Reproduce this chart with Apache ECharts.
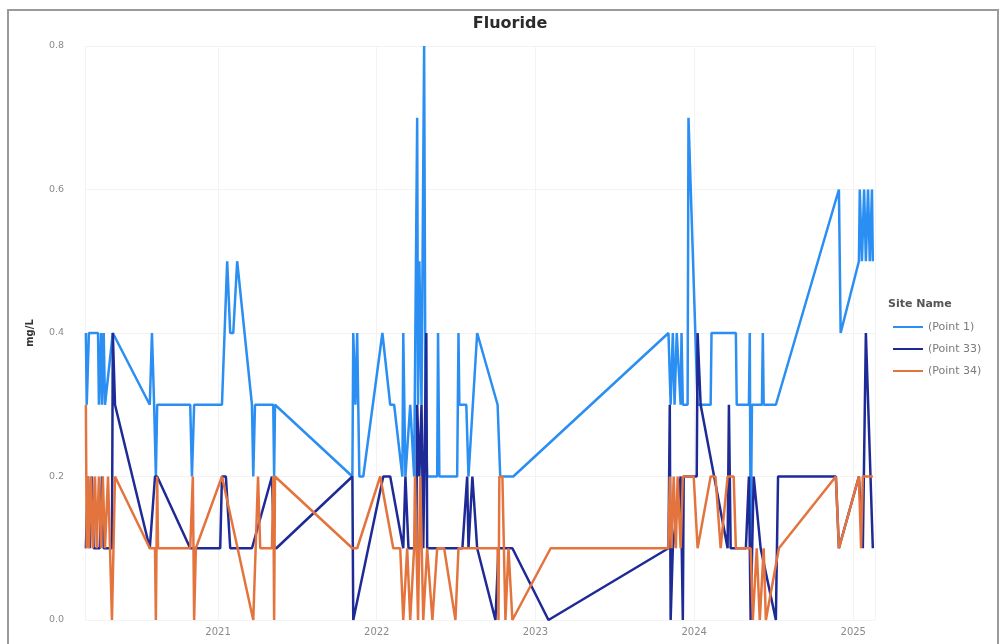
<!DOCTYPE html>
<html>
<head>
<meta charset="utf-8">
<title>Fluoride</title>
<script src="https://cdn.jsdelivr.net/npm/echarts@6/dist/echarts.min.js"></script>
<style>
  html, body { margin: 0; padding: 0; background: #ffffff; }
  #chart { width: 1000px; height: 644px; }
</style>
</head>
<body>
<div id="chart"></div>
<script>
// Fluoride samples (mg/L) per site
const siteNames = ['(Point 1)', '(Point 33)', '(Point 34)'];

const point1 = [
  ['2020-03-03', 0.4], ['2020-03-05', 0.3], ['2020-03-10', 0.4], ['2020-03-31', 0.4],
  ['2020-04-02', 0.3], ['2020-04-07', 0.4], ['2020-04-09', 0.3], ['2020-04-13', 0.4],
  ['2020-04-16', 0.3], ['2020-05-04', 0.4], ['2020-07-28', 0.3], ['2020-08-02', 0.4],
  ['2020-08-07', 0.3], ['2020-08-11', 0.2], ['2020-08-14', 0.3], ['2020-10-29', 0.3],
  ['2020-11-02', 0.2], ['2020-11-07', 0.3], ['2021-01-10', 0.3], ['2021-01-22', 0.5],
  ['2021-01-29', 0.4], ['2021-02-05', 0.4], ['2021-02-14', 0.5], ['2021-03-20', 0.3],
  ['2021-03-23', 0.2], ['2021-03-27', 0.3], ['2021-05-08', 0.3], ['2021-05-10', 0.2],
  ['2021-05-12', 0.3], ['2021-11-06', 0.2], ['2021-11-08', 0.4], ['2021-11-13', 0.3],
  ['2021-11-17', 0.4], ['2021-11-22', 0.2], ['2021-12-01', 0.2], ['2022-01-14', 0.4],
  ['2022-02-01', 0.3], ['2022-02-10', 0.3], ['2022-03-01', 0.2], ['2022-03-03', 0.4],
  ['2022-03-08', 0.2], ['2022-03-19', 0.3], ['2022-03-28', 0.2], ['2022-04-04', 0.7],
  ['2022-04-06', 0.3], ['2022-04-09', 0.5], ['2022-04-14', 0.3], ['2022-04-20', 0.8],
  ['2022-04-23', 0.3], ['2022-04-27', 0.2], ['2022-05-20', 0.2], ['2022-05-22', 0.4],
  ['2022-05-25', 0.2], ['2022-07-05', 0.2], ['2022-07-08', 0.4], ['2022-07-10', 0.3],
  ['2022-07-26', 0.3], ['2022-07-31', 0.2], ['2022-08-20', 0.4], ['2022-10-06', 0.3],
  ['2022-10-12', 0.2], ['2022-11-11', 0.2], ['2023-11-03', 0.4], ['2023-11-08', 0.3],
  ['2023-11-13', 0.4], ['2023-11-17', 0.3], ['2023-11-22', 0.4], ['2023-12-01', 0.3],
  ['2023-12-03', 0.4], ['2023-12-06', 0.3], ['2023-12-17', 0.3], ['2023-12-19', 0.7],
  ['2024-01-09', 0.3], ['2024-02-08', 0.3], ['2024-02-10', 0.4], ['2024-04-06', 0.4],
  ['2024-04-08', 0.3], ['2024-05-06', 0.3], ['2024-05-08', 0.4], ['2024-05-10', 0.1],
  ['2024-05-13', 0.3], ['2024-06-05', 0.3], ['2024-06-07', 0.4], ['2024-06-09', 0.3],
  ['2024-07-07', 0.3], ['2024-11-29', 0.6], ['2024-12-03', 0.4], ['2025-01-14', 0.5],
  ['2025-01-16', 0.6], ['2025-01-21', 0.5], ['2025-01-26', 0.6], ['2025-01-30', 0.5],
  ['2025-02-04', 0.6], ['2025-02-08', 0.5], ['2025-02-13', 0.6], ['2025-02-15', 0.5]
];

const point33 = [
  ['2020-03-03', 0.1], ['2020-03-08', 0.2], ['2020-03-12', 0.1], ['2020-03-17', 0.2],
  ['2020-03-21', 0.1], ['2020-04-04', 0.1], ['2020-04-09', 0.2], ['2020-04-13', 0.1],
  ['2020-05-02', 0.1], ['2020-05-04', 0.4], ['2020-05-09', 0.3], ['2020-07-28', 0.1],
  ['2020-08-09', 0.2], ['2020-08-14', 0.2], ['2020-10-29', 0.1], ['2021-01-06', 0.1],
  ['2021-01-10', 0.2], ['2021-01-19', 0.2], ['2021-01-29', 0.1], ['2021-03-20', 0.1],
  ['2021-05-05', 0.2], ['2021-05-10', 0.1], ['2021-05-15', 0.1], ['2021-11-06', 0.2],
  ['2021-11-08', 0.0], ['2022-01-16', 0.2], ['2022-02-01', 0.2], ['2022-03-03', 0.1],
  ['2022-03-08', 0.2], ['2022-03-15', 0.1], ['2022-04-02', 0.1], ['2022-04-04', 0.3],
  ['2022-04-09', 0.2], ['2022-04-14', 0.3], ['2022-04-18', 0.1], ['2022-04-25', 0.4],
  ['2022-04-27', 0.1], ['2022-06-08', 0.1], ['2022-06-19', 0.1], ['2022-07-17', 0.1],
  ['2022-07-28', 0.2], ['2022-07-31', 0.1], ['2022-08-09', 0.2], ['2022-08-20', 0.1],
  ['2022-10-01', 0.0], ['2022-10-08', 0.1], ['2022-11-09', 0.1], ['2023-01-31', 0.0],
  ['2023-11-03', 0.1], ['2023-11-06', 0.3], ['2023-11-08', 0.0], ['2023-11-13', 0.1],
  ['2023-12-01', 0.2], ['2023-12-06', 0.0], ['2023-12-08', 0.2], ['2024-01-07', 0.2],
  ['2024-01-09', 0.4], ['2024-01-16', 0.3], ['2024-03-18', 0.1], ['2024-03-21', 0.3],
  ['2024-03-25', 0.1], ['2024-04-29', 0.1], ['2024-05-06', 0.2], ['2024-05-10', 0.0],
  ['2024-05-17', 0.2], ['2024-06-02', 0.1], ['2024-07-07', 0.0], ['2024-07-12', 0.2],
  ['2024-11-22', 0.2], ['2024-11-29', 0.1], ['2025-01-14', 0.2], ['2025-01-23', 0.1],
  ['2025-01-30', 0.4], ['2025-02-15', 0.1]
];

const point34 = [
  ['2020-03-03', 0.3], ['2020-03-05', 0.1], ['2020-03-08', 0.2], ['2020-03-10', 0.1],
  ['2020-03-15', 0.2], ['2020-03-19', 0.1], ['2020-03-24', 0.2], ['2020-03-28', 0.1],
  ['2020-04-02', 0.2], ['2020-04-07', 0.1], ['2020-04-11', 0.2], ['2020-04-16', 0.1],
  ['2020-04-23', 0.2], ['2020-05-02', 0.0], ['2020-05-09', 0.2], ['2020-07-28', 0.1],
  ['2020-08-09', 0.1], ['2020-08-11', 0.0], ['2020-08-14', 0.2], ['2020-08-16', 0.1],
  ['2020-10-29', 0.1], ['2020-11-04', 0.2], ['2020-11-07', 0.0], ['2020-11-11', 0.1],
  ['2021-01-10', 0.2], ['2021-03-23', 0.0], ['2021-04-03', 0.2], ['2021-04-08', 0.1],
  ['2021-05-05', 0.1], ['2021-05-08', 0.2], ['2021-05-10', 0.0], ['2021-05-12', 0.2],
  ['2021-11-06', 0.1], ['2021-11-17', 0.1], ['2022-01-09', 0.2], ['2022-02-08', 0.1],
  ['2022-02-24', 0.1], ['2022-03-03', 0.0], ['2022-03-12', 0.1], ['2022-03-19', 0.0],
  ['2022-03-28', 0.1], ['2022-03-30', 0.2], ['2022-04-06', 0.0], ['2022-04-11', 0.2],
  ['2022-04-18', 0.0], ['2022-04-27', 0.1], ['2022-05-09', 0.0], ['2022-05-20', 0.1],
  ['2022-06-05', 0.1], ['2022-07-01', 0.0], ['2022-07-08', 0.1], ['2022-10-06', 0.1],
  ['2022-10-08', 0.0], ['2022-10-10', 0.2], ['2022-10-17', 0.2], ['2022-10-24', 0.0],
  ['2022-10-31', 0.1], ['2022-11-09', 0.0], ['2023-02-05', 0.1], ['2023-11-03', 0.1],
  ['2023-11-06', 0.2], ['2023-11-10', 0.1], ['2023-11-15', 0.2], ['2023-11-20', 0.1],
  ['2023-11-24', 0.2], ['2023-12-01', 0.1], ['2023-12-06', 0.2], ['2023-12-31', 0.2],
  ['2024-01-09', 0.1], ['2024-02-08', 0.2], ['2024-02-19', 0.2], ['2024-03-02', 0.1],
  ['2024-03-18', 0.2], ['2024-04-01', 0.2], ['2024-04-06', 0.1], ['2024-05-10', 0.1],
  ['2024-05-15', 0.0], ['2024-05-24', 0.1], ['2024-05-31', 0.0], ['2024-06-09', 0.1],
  ['2024-06-14', 0.0], ['2024-07-14', 0.1], ['2024-11-22', 0.2], ['2024-11-29', 0.1],
  ['2025-01-14', 0.2], ['2025-01-19', 0.1], ['2025-01-23', 0.2], ['2025-02-15', 0.2]
];

const siteColors = ['#2a8ef2', '#1e2a96', '#e4743e'];
const siteData = [point1, point33, point34];
const YEAR_MS = 365 * 24 * 3600 * 1000;
const FONT = 'DejaVu Sans';

const chart = echarts.init(document.getElementById('chart'), null, { renderer: 'canvas' });

chart.setOption({
  backgroundColor: '#ffffff',
  animation: false,
  title: {
    text: 'Fluoride',
    left: 505,
    top: 11,
    textAlign: 'center',
    textStyle: { fontFamily: FONT, fontSize: 16, fontWeight: 'bold', color: '#2b2b2b' }
  },
  graphic: [
    {
      type: 'rect',
      shape: { x: 8, y: 10, width: 990, height: 640 },
      style: { fill: 'none', stroke: '#9a9a9a', lineWidth: 2 },
      silent: true
    },
    {
      type: 'text',
      left: 888,
      top: 299,
      style: { text: 'Site Name', font: 'bold 11px "DejaVu Sans"', fill: '#555' }
    }
  ],
  legend: {
    orient: 'vertical',
    left: 888,
    top: 315,
    icon: 'rect',
    itemWidth: 30,
    itemHeight: 2,
    itemGap: 8,
    data: siteNames,
    textStyle: { fontFamily: FONT, fontSize: 11, lineHeight: 14, color: '#7a7a7a' }
  },
  grid: { left: 85, right: 125, top: 46, bottom: 24, containLabel: false },
  xAxis: {
    type: 'time',
    min: '2020-03-01',
    max: '2025-02-20',
    minInterval: YEAR_MS,
    splitNumber: 5,
    axisLine: { show: false },
    axisTick: { show: false },
    splitLine: { show: true, lineStyle: { color: '#f3f3f3', width: 1 } },
    axisLabel: {
      formatter: '{yyyy}',
      fontFamily: FONT,
      fontSize: 10,
      color: '#8a8a8a',
      margin: 7
    }
  },
  yAxis: {
    type: 'value',
    min: 0,
    max: 0.8,
    interval: 0.2,
    name: 'mg/L',
    nameLocation: 'middle',
    nameGap: 50,
    nameTextStyle: { fontFamily: FONT, fontSize: 10, fontWeight: 'bold', color: '#333' },
    axisLine: { show: false },
    axisTick: { show: false },
    splitLine: { lineStyle: { color: '#f3f3f3' } },
    axisLabel: {
      formatter: v => v.toFixed(1),
      fontFamily: FONT,
      fontSize: 9.5,
      color: '#8a8a8a',
      margin: 21
    }
  },
  series: siteNames.map((name, i) => ({
    name: name,
    type: 'line',
    data: siteData[i],
    showSymbol: false,
    symbol: 'none',
    lineStyle: { width: 2.5, color: siteColors[i] },
    itemStyle: { color: siteColors[i] }
  }))
});
</script>
</body>
</html>
